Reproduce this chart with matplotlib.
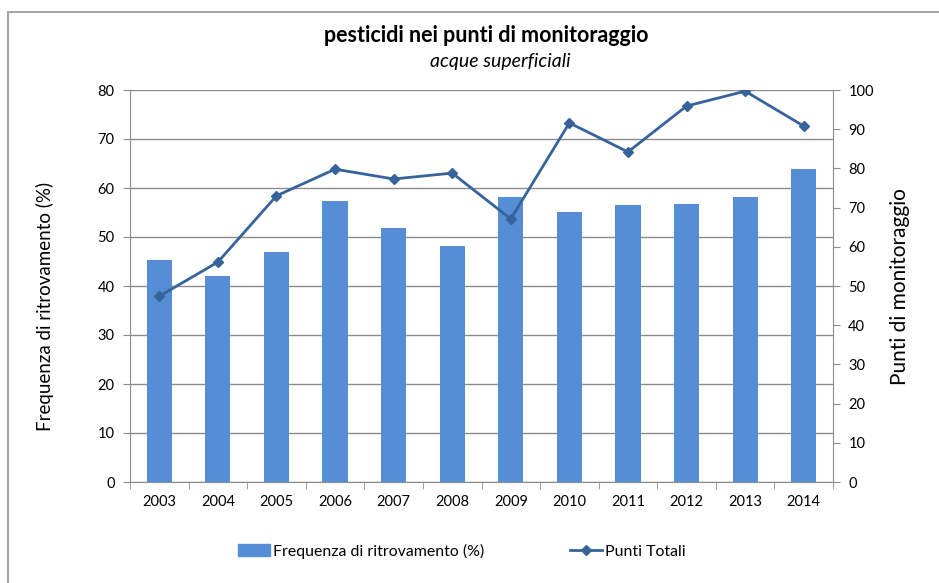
import matplotlib
matplotlib.use("Agg")
import matplotlib.pyplot as plt
from matplotlib.patches import Rectangle
from matplotlib.lines import Line2D
import numpy as np

years = ["2003", "2004", "2005", "2006", "2007", "2008", "2009", "2010", "2011", "2012", "2013", "2014"]
frequenza = [45.3, 42.1, 47.0, 57.3, 51.8, 48.1, 58.1, 55.1, 56.6, 56.8, 58.1, 63.8]
punti_totali = [47.4, 56.1, 73.0, 79.8, 77.3, 78.8, 67.1, 91.6, 84.2, 95.9, 99.7, 90.8]
left_ticks = [0, 10, 20, 30, 40, 50, 60, 70, 80]
right_ticks = [0, 10, 20, 30, 40, 50, 60, 70, 80, 90, 100]

plt.rcParams['font.family'] = ['Lato', 'DejaVu Sans']

W, H = 939, 583
fig = plt.figure(figsize=(W / 100, H / 100), dpi=100)
fig.patch.set_facecolor('white')

# outer border
fig.add_artist(Rectangle((8 / W, -0.1), 1.2, 1 - 12 / H + 0.1, transform=fig.transFigure,
                         fill=False, edgecolor='#A6A6A6', linewidth=1.5))

ax = fig.add_axes([130 / W, 1 - 482 / H, (833 - 130) / W, (482 - 90) / H])
x = np.arange(len(years))
bar_col = '#558ED5'
line_col = '#36639A'
grid_col = '#8C8C8C'

ax.bar(x, frequenza, width=0.43, color=bar_col, zorder=3)
ax.set_xlim(-0.5, len(years) - 0.5)
ax.set_ylim(0, 80)
ax.set_yticks(left_ticks)
ax.yaxis.grid(True, color=grid_col, linewidth=1.0, zorder=0)
ax.set_xticks(x)
ax.set_xticklabels(years, fontsize=10.5)
ax.set_xticks(np.arange(-0.5, len(years)), minor=True)
ax.tick_params(axis='x', which='major', length=0, pad=9)
ax.tick_params(axis='x', which='minor', length=5, color=grid_col, direction='out')
ax.tick_params(axis='y', length=5, color=grid_col, labelsize=10.5, pad=6)
for s in ['top', 'right']:
    ax.spines[s].set_visible(False)
for s in ['left', 'bottom']:
    ax.spines[s].set_color(grid_col)

ax2 = ax.twinx()
ax2.plot(x, punti_totali, color=line_col, linewidth=2, marker='D', markersize=5.5, zorder=4)
ax2.set_ylim(0, 100)
ax2.set_yticks(right_ticks)
ax2.tick_params(axis='y', length=5, color=grid_col, labelsize=10.5, pad=6)
for s in ['top', 'left', 'bottom']:
    ax2.spines[s].set_visible(False)
ax2.spines['right'].set_color(grid_col)

fig.text(45 / W, 1 - 306 / H, 'Frequenza di ritrovamento (%)', rotation=90, ha='center', va='center',
         fontsize=13.5)
fig.text(900 / W, 1 - 287 / H, 'Punti di monitoraggio', rotation=90, ha='center', va='center',
         fontsize=15)

fig.text(486 / W, 1 - 35 / H, 'pesticidi nei punti di monitoraggio', ha='center', va='center',
         fontsize=15.5, fontweight='bold')
fig.text(500 / W, 1 - 62 / H, 'acque superficiali', ha='center', va='center',
         fontsize=14, fontstyle='italic')

handles = [Rectangle((0, 0), 1, 1, color=bar_col),
           Line2D([], [], color=line_col, linewidth=2, marker='D', markersize=5)]
fig.legend(handles, ['Frequenza di ritrovamento (%)', 'Punti Totali'], loc='center',
           bbox_to_anchor=(462 / W, 1 - 551 / H), ncol=2, frameon=False, fontsize=11.4,
           handlelength=2.0, handletextpad=0.2, columnspacing=5.4)

fig.savefig('out.png', dpi=100)
